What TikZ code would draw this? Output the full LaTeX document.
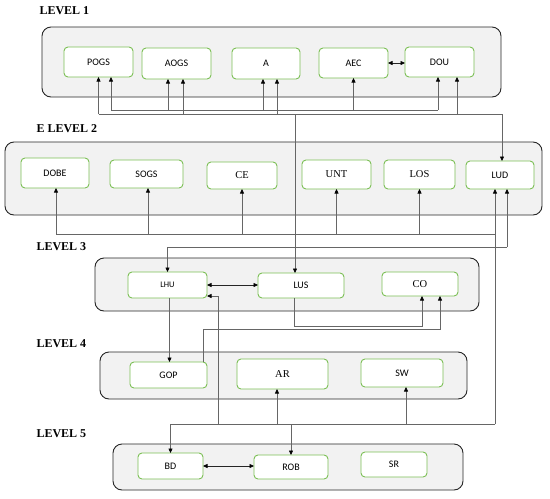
\documentclass[tikz,border=0pt]{standalone}
\usepackage{fontspec}
\setmainfont{Liberation Serif}
\newfontfamily\calib{Carlito}
\usetikzlibrary{arrows.meta}
\definecolor{boxgreen}{HTML}{7CBF55}

\begin{document}
\begin{tikzpicture}[
  x=1pt, y=-1pt,
  >={Triangle[length=4.5pt,width=4pt,color=black]},
  panel/.style={draw=black!85, line width=.9pt, fill=black!5, rounded corners=9pt},
  item/.style={draw=boxgreen, line width=.9pt, fill=white, rounded corners=4pt,
    inner sep=0pt, outer sep=0pt, minimum width=69pt, minimum height=29pt,
    font=\calib\fontsize{10}{11}\selectfont},
  serif/.style={font=\rmfamily\fontsize{10.5}{12}\selectfont},
  lvl/.style={anchor=west, font=\rmfamily\bfseries\fontsize{12}{14}\selectfont},
  link/.style={black!60, line width=.6pt},
  arr/.style={link, ->},
  both/.style={black!85, line width=.6pt, <->}
]
\useasboundingbox (0,0) rectangle (550,499);

% level panels
\node[lvl] (lab1) at (36,11) {LEVEL 1};
\draw[panel] (42,27) rectangle (501,97);
\node[lvl] (lab2) at (33,129) {E LEVEL 2};
\draw[panel] (5,142) rectangle (542,215);
\node[lvl] (lab3) at (33,247) {LEVEL 3};
\draw[panel] (95,258) rectangle (479,311);
\node[lvl] (lab4) at (33,344) {LEVEL 4};
\draw[panel] (100,352) rectangle (467,399);
\node[lvl] (lab5) at (33,434) {LEVEL 5};
\draw[panel] (113,444) rectangle (463,490);

% level 1
\node[item, minimum height=30pt] (pogs) at (98.5,62) {POGS};
\node[item, minimum height=31pt] (aogs) at (176.5,63.5) {AOGS};
\node[item, minimum width=68pt, minimum height=31pt] (a) at (266,63.5) {A};
\node[item, minimum height=30pt] (aec) at (353.5,63) {AEC};
\node[item, minimum height=30pt] (dou) at (439.5,62) {DOU};

% level 2
\node[item, minimum width=68pt, minimum height=30pt] (dobe) at (55,173) {DOBE};
\node[item, minimum width=73pt, minimum height=28pt] (sogs) at (146.5,174) {SOGS};
\node[item, serif, minimum width=70pt, minimum height=27pt] (ce) at (242,175.5) {CE};
\node[item, serif] (unt) at (336.5,174.5) {UNT};
\node[item, serif, minimum width=71pt] (los) at (419.5,174.5) {LOS};
\node[item, minimum width=68pt, minimum height=28pt] (lud) at (500,175) {LUD};

% level 3
\node[item, minimum width=79pt, minimum height=26pt, font=\calib\fontsize{8.5}{10}\selectfont] (lhu) at (167.5,285) {LHU};
\node[item, minimum width=86pt, minimum height=25pt] (lus) at (301,285.5) {LUS};
\node[item, serif, minimum width=76pt, minimum height=24pt] (co) at (420,284) {CO};

% level 4
\node[item, minimum width=77pt, minimum height=26pt] (gop) at (168.5,375) {GOP};
\node[item, serif, minimum width=91pt, minimum height=30pt] (ar) at (282.5,374) {AR};
\node[item, minimum width=82pt, minimum height=28pt] (sw) at (402,373) {SW};

% level 5
\node[item, minimum width=65pt, minimum height=26pt] (bd) at (170.5,466) {BD};
\node[item, minimum width=74pt, minimum height=24pt] (rob) at (291,467) {ROB};
\node[item, minimum width=66pt, minimum height=25pt] (sr) at (394,464.5) {SR};

% bus rows
\coordinate (rowA) at (0,110);
\coordinate (rowB) at (0,114);
\coordinate (rowC) at (0,234);
\coordinate (rowD) at (0,247);
\coordinate (rowL) at (0,326);
\coordinate (rowG) at (0,329);
\coordinate (rowE) at (0,424);

% into level 1
\draw[link] ([xshift=12.5pt]pogs.south |- rowA) -- ([xshift=-1.5pt]dou.south |- rowA);
\draw[arr] ([xshift=12.5pt]pogs.south |- rowA) -- ([xshift=12.5pt]pogs.south);
\draw[arr] ([xshift=-8.5pt]aogs.south |- rowA) -- ([xshift=-8.5pt]aogs.south);
\draw[arr] ([xshift=-3pt]a.south |- rowA) -- ([xshift=-3pt]a.south);
\draw[arr] (aec.south |- rowA) -- (aec.south);
\draw[arr] ([xshift=-1.5pt]dou.south |- rowA) -- ([xshift=-1.5pt]dou.south);

\draw[arr] (pogs.south |- rowB) -| ([xshift=2pt]lud.north);
\draw[arr] (pogs.south |- rowB) -- (pogs.south);
\draw[arr] ([xshift=6.5pt]aogs.south |- rowB) -- ([xshift=6.5pt]aogs.south);
\draw[arr] ([xshift=11pt]a.south |- rowB) -- ([xshift=11pt]a.south);
\draw[arr] ([xshift=17.5pt]dou.south |- rowB) -- ([xshift=17.5pt]dou.south);
\draw[arr] ([xshift=-6pt]lus.north |- rowB) -- ([xshift=-6pt]lus.north);
\draw[both] (aec.east) -- (aec.east -| dou.west);

% into level 2
\draw[link] ([xshift=1pt]dobe.south |- rowC) -- ([xshift=-5pt]lud.south |- rowC);
\draw[arr] ([xshift=1pt]dobe.south |- rowC) -- ([xshift=1pt]dobe.south);
\draw[arr] ([xshift=1.5pt]sogs.south |- rowC) -- ([xshift=1.5pt]sogs.south);
\draw[arr] (ce.south |- rowC) -- (ce.south);
\draw[arr] (unt.south |- rowC) -- (unt.south);
\draw[arr] (los.south |- rowC) -- (los.south);
\draw[arr] ([xshift=7pt]lud.south |- rowD) -- ([xshift=7pt]lud.south);
\draw[arr] ([xshift=7pt]lud.south |- rowD) -| (lhu.north);

% level 3
\draw[both] (lhu.east) -- (lhu.east -| lus.west);
\draw[arr] ([xshift=2pt]lhu.south) -- ([xshift=2pt]lhu.south |- gop.north);
\draw[arr] ([xshift=-7pt]lus.south) -- ([xshift=-7pt]lus.south |- rowL) -| ([xshift=2pt]co.south);
\draw[arr] ([xshift=34.5pt]gop.north) -- ([xshift=34.5pt]gop.north |- rowG) -| ([xshift=20pt]co.south);

% level 4 and 5
\coordinate (busE) at ([xshift=-5pt]lud.south |- rowE);
\draw[arr] (busE) -- ([xshift=-5pt]lud.south);
\draw[arr] (busE) -| (bd.north);
\draw[arr] (rob.north |- busE) -- (rob.north);
\draw[arr] ([xshift=-5.5pt]ar.south |- busE) -- ([xshift=-5.5pt]ar.south);
\draw[arr] ([xshift=4pt]sw.south |- busE) -- ([xshift=4pt]sw.south);
\draw[arr] ([xshift=11pt]lhu.south east |- busE) |- ([yshift=2pt]lhu.south east);
\draw[both] (bd.east) -- (bd.east -| rob.west);

\end{tikzpicture}
\end{document}
